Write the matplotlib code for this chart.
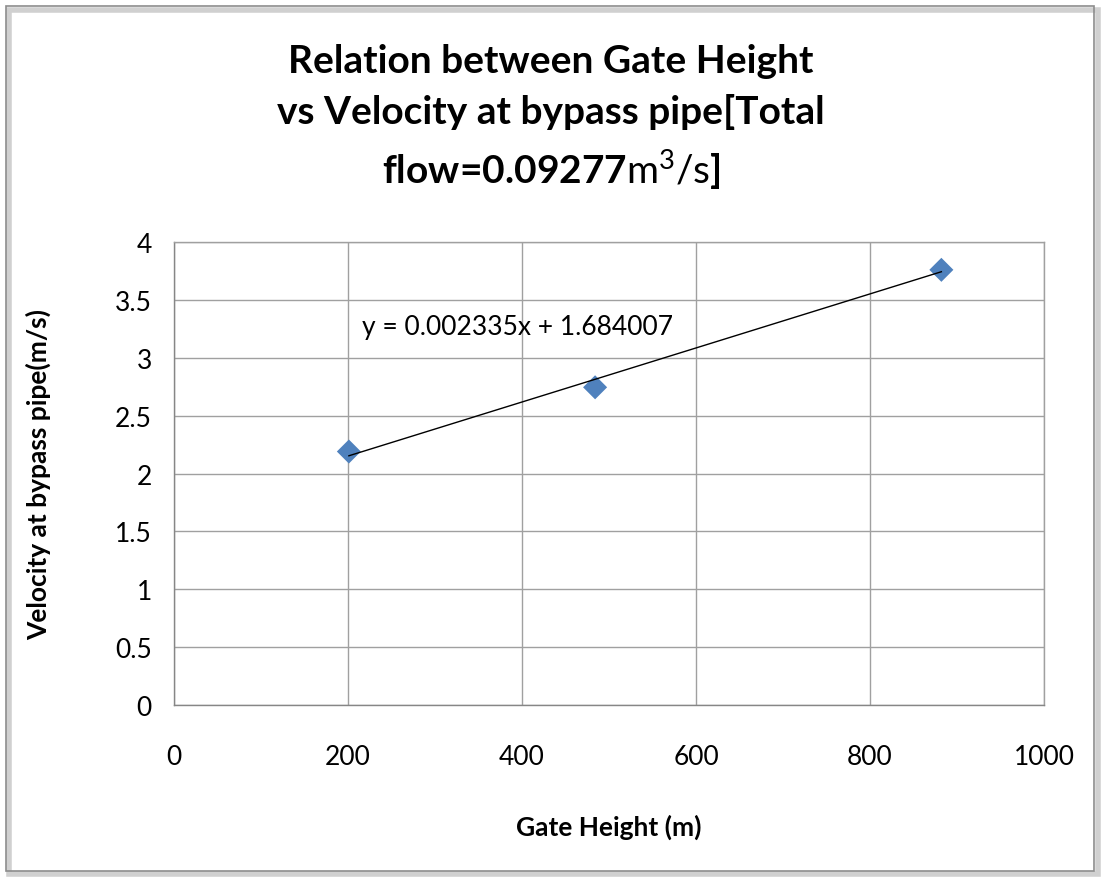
import matplotlib
matplotlib.use('Agg')
import matplotlib.pyplot as plt
import numpy as np
from matplotlib.patches import Rectangle

# data
gate_height = [201, 484, 882]
velocity = [2.19, 2.745, 3.76]
slope = 0.002335
intercept = 1.684007
x_ticks = [0, 200, 400, 600, 800, 1000]
y_ticks = [0, 0.5, 1, 1.5, 2, 2.5, 3, 3.5, 4]

plt.rcParams['font.family'] = ['Lato', 'DejaVu Sans']
plt.rcParams['mathtext.fontset'] = 'custom'
plt.rcParams['mathtext.rm'] = 'Lato'
plt.rcParams['mathtext.bf'] = 'Lato:bold'

fig = plt.figure(figsize=(11.02, 8.79), dpi=100)
ax = fig.add_axes([0.1579, 0.1968, 0.7895, 0.5267])

# outer chart frame with a soft shadow
fig.patches.append(Rectangle((0.008, 0.004), 0.988, 0.984, transform=fig.transFigure,
                             fill=False, edgecolor='#d0d0d0', linewidth=4, zorder=0))
fig.patches.append(Rectangle((0.005, 0.008), 0.988, 0.984, transform=fig.transFigure,
                             fill=False, edgecolor='#8c8c8c', linewidth=1.2, zorder=1))

ax.scatter(gate_height, velocity, marker='D', s=150, color='#4f81bd',
           edgecolor='none', zorder=3)

xfit = np.array([gate_height[0], gate_height[-1]])
ax.plot(xfit, slope * xfit + intercept, color='black', linewidth=1.0, zorder=4)
ax.text(216, 3.27, 'y = 0.002335x + 1.684007', fontsize=19, va='center', ha='left')

ax.set_xlim(0, 1000)
ax.set_ylim(0, 4)
ax.set_xticks(x_ticks)
ax.set_yticks(y_ticks)
ax.set_yticklabels(['0', '0.5', '1', '1.5', '2', '2.5', '3', '3.5', '4'])
ax.grid(True, color='#a0a0a0', linewidth=1.0)
ax.set_axisbelow(True)
for s in ax.spines.values():
    s.set_color('#a0a0a0')
    s.set_linewidth(1.0)
ax.spines['bottom'].set_color('#868686')
ax.spines['left'].set_color('#868686')
ax.tick_params(axis='both', length=0, labelsize=19)
ax.tick_params(axis='x', pad=28)
ax.tick_params(axis='y', pad=16)

ax.set_xlabel('Gate Height (m)', fontsize=19, fontweight='bold', labelpad=32)
ax.set_ylabel('Velocity at bypass pipe(m/s)', fontsize=19, fontweight='bold', labelpad=46)

fig.text(0.5, 0.866, 'Relation between Gate Height\nvs Velocity at bypass pipe[Total\n'
         r'flow=$\mathbf{0.09277}$$\mathrm{m^3/s}$]',
         ha='center', va='center', fontsize=28, fontweight='bold', linespacing=1.5)

fig.savefig('out.png', dpi=100)
